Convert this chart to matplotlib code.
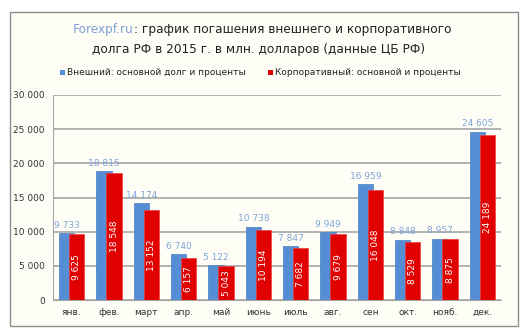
import numpy as np
import matplotlib.pyplot as plt
from matplotlib.patches import Rectangle

months = ["янв.", "фев.", "март", "апр.", "май", "июнь", "июль", "авг.", "сен", "окт.", "нояб.", "дек."]
external = [9733, 18815, 14174, 6740, 5122, 10738, 7847, 9949, 16959, 8848, 8957, 24605]
corporate = [9625, 18548, 13152, 6157, 5043, 10194, 7682, 9679, 16048, 8529, 8875, 24189]
yticks = [0, 5000, 10000, 15000, 20000, 25000, 30000]

BLUE = "#558ed5"
RED = "#e10000"
BG = "#fffef6"

def fmt(v):
    return f"{v:,}".replace(",", " ")

W, H = 529, 334
fig = plt.figure(figsize=(W / 100, H / 100), dpi=100, facecolor="white")

# chart frame
fig.patches.append(Rectangle((10 / W, 1 - 326 / H), 508 / W, 314 / H, transform=fig.transFigure,
                             facecolor=BG, edgecolor="#8c8c8c", linewidth=1.0, zorder=-5))

ax = fig.add_axes([53 / W, 1 - 300 / H, 448 / W, 205 / H], zorder=2)
ax.patch.set_alpha(0)

x = np.arange(len(months))
bw = 0.41
ax.bar(x - 0.13, external, bw, color=BLUE, edgecolor="#4a7ebf", linewidth=0.5, zorder=2)
ax.bar(x + 0.13, corporate, bw, color=RED, edgecolor="#f04040", linewidth=0.5, zorder=3)

for i in range(len(months)):
    ax.text(x[i] - 0.13, external[i] + 500, fmt(external[i]), ha="center", va="bottom",
            fontsize=6.5, color="#7fa3d9")
    ax.text(x[i] + 0.14, corporate[i] / 2, fmt(corporate[i]), ha="center", va="center",
            rotation=90, fontsize=6.5, color="white", zorder=4)

ax.set_xlim(-0.5, len(months) - 0.5)
ax.set_ylim(0, 30000)
ax.set_yticks(yticks)
ax.set_yticklabels([fmt(v) for v in yticks], fontsize=6.5, color="#333333")
ax.set_xticks(x)
ax.set_xticklabels(months, fontsize=6.5, color="#333333")
ax.tick_params(length=0, pad=6)
ax.grid(axis="y", color="#a6a6a6", linewidth=1.2, zorder=1)
ax.set_axisbelow(True)
for s in ["top", "right"]:
    ax.spines[s].set_visible(False)
ax.spines["left"].set_color("#a6a6a6")
ax.spines["bottom"].set_color("#a6a6a6")

# title: coloured site name followed by the rest of the line
t1 = fig.text(73 / W, 1 - 30 / H, "Forexpf.ru", color="#7f9fd8", fontsize=8.7, ha="left", va="center")
fig.canvas.draw()
bb = t1.get_window_extent()
fig.text(bb.x1 / W, 1 - 30 / H, ": график погашения внешнего и корпоративного", color="#222222",
         fontsize=8.7, ha="left", va="center")
fig.text(259 / W, 1 - 49 / H, "долга РФ в 2015 г. в млн. долларов (данные ЦБ РФ)", color="#222222",
         fontsize=8.7, ha="center", va="center")

# legend
fig.patches.append(Rectangle((60 / W, 1 - 75 / H), 5 / W, 5 / H, transform=fig.transFigure,
                             facecolor=BLUE, edgecolor="none"))
fig.text(67 / W, 1 - 72.5 / H, "Внешний: основной долг и проценты", fontsize=6.5,
         color="#222222", ha="left", va="center")
fig.patches.append(Rectangle((268 / W, 1 - 75 / H), 5 / W, 5 / H, transform=fig.transFigure,
                             facecolor=RED, edgecolor="none"))
fig.text(275 / W, 1 - 72.5 / H, "Корпоративный: основной и проценты", fontsize=6.5,
         color="#222222", ha="left", va="center")

fig.savefig("out.png", dpi=100, facecolor="white")
